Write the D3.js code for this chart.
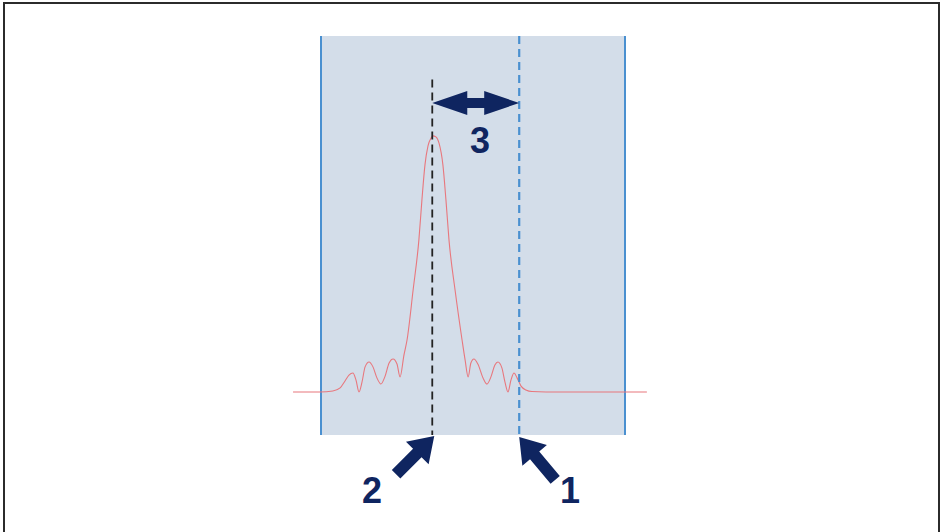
<!DOCTYPE html>
<html lang="en">
<head>
<meta charset="utf-8">
<title>Peak shift</title>
<script src="https://d3js.org/d3.v7.min.js"></script>
<style>
  body { margin: 0; background: #fff; }
</style>
</head>
<body>
<script>
// position (panel units 0..100) and relative intensity of the trace
var posX = [-9.2, -0.3, 3.9, 6.3, 7.9, 9.2, 10.5, 11.5, 12.5, 13.5, 14.5, 15.8, 17.1, 18.4, 19.7, 21, 22.4, 23.7, 25, 26,
  27.3, 28.3, 30.3, 32.2, 33.2, 34.2, 35.2, 36.2, 36.8, 37.8, 38.8, 40.1, 41.1, 42.1, 44.1, 46.4, 47.4, 48.4,
  49.3, 50.3, 51.6, 53.3, 54.6, 55.9, 57.2, 58.2, 59.5, 60.5, 61.5, 62.5, 63.5, 64.5, 65.8, 67.4, 69.4, 78.6, 107.2];
var intensity = [0, 0, 0.004, 0.016, 0.043, 0.066, 0.074, 0.047, 0, 0.039, 0.098, 0.117, 0.098, 0.055, 0.031, 0.059, 0.113, 0.129, 0.109, 0.059,
  0.145, 0.203, 0.398, 0.594, 0.75, 0.887, 0.961, 0.992, 1, 0.996, 0.973, 0.887, 0.75, 0.594, 0.398, 0.203, 0.125, 0.059,
  0.113, 0.129, 0.109, 0.055, 0.031, 0.059, 0.105, 0.117, 0.094, 0.039, 0, 0.047, 0.074, 0.055, 0.023, 0.008, 0.002, 0, 0];

var peakPos = 36.6;     // line 2 (measured peak)
var refPos = 65.2;      // line 1 (reference)
var labels = ["1", "2", "3"];

var w = 943, h = 532;
var navy = "#0f2560";

var svg = d3.select("body").append("svg")
  .attr("width", w)
  .attr("height", h);

// outer frame
svg.append("rect")
  .attr("x", 4).attr("y", 3)
  .attr("width", 935).attr("height", 540)
  .attr("fill", "none")
  .attr("stroke", "#2b2b2b")
  .attr("stroke-width", 2);

var x = d3.scaleLinear().domain([0, 100]).range([321, 625]);
var y = d3.scaleLinear().domain([-0.168, 1.39]).range([435, 36]);

// panel
svg.append("rect")
  .attr("x", x(0)).attr("y", y(1.39))
  .attr("width", x(100) - x(0))
  .attr("height", y(-0.168) - y(1.39))
  .attr("fill", "#d3dde9");

svg.selectAll(".edge")
  .data([0, 100])
  .join("line")
  .attr("class", "edge")
  .attr("x1", d => x(d)).attr("x2", d => x(d))
  .attr("y1", y(1.39)).attr("y2", y(-0.168))
  .attr("stroke", "#4a90d0")
  .attr("stroke-width", 2);

// trace
var pts = posX.map((d, i) => [d, intensity[i]]);
var line = d3.line()
  .x(d => x(d[0]))
  .y(d => y(d[1]))
  .curve(d3.curveMonotoneX);

svg.append("path")
  .datum(pts)
  .attr("d", line)
  .attr("fill", "none")
  .attr("stroke", "#e8777d")
  .attr("stroke-width", 1.1);

// dashed markers
svg.append("line")
  .attr("x1", x(peakPos)).attr("x2", x(peakPos))
  .attr("y1", y(1.22)).attr("y2", y(-0.168))
  .attr("stroke", "#222")
  .attr("stroke-width", 1.8)
  .attr("stroke-dasharray", "8,5");

svg.append("line")
  .attr("x1", x(refPos)).attr("x2", x(refPos))
  .attr("y1", y(1.39)).attr("y2", y(-0.168))
  .attr("stroke", "#4a90d0")
  .attr("stroke-width", 2.2)
  .attr("stroke-dasharray", "8,5");

// double arrow (3)
var ay = 103;
var x1 = x(peakPos), x2 = x(refPos);
var hl = 35, hw = 12, sw = 5;
svg.append("path")
  .attr("d", [
    "M", x1, ay,
    "L", x1 + hl, ay - hw,
    "L", x1 + hl, ay - sw,
    "L", x2 - hl, ay - sw,
    "L", x2 - hl, ay - hw,
    "L", x2, ay,
    "L", x2 - hl, ay + hw,
    "L", x2 - hl, ay + sw,
    "L", x1 + hl, ay + sw,
    "L", x1 + hl, ay + hw, "Z"].join(" "))
  .attr("fill", navy);

// single arrows (1, 2)
function arrow(tx, ty, ang, len) {
  // ang: direction from tip back to tail, degrees
  var g = svg.append("g")
    .attr("transform", `translate(${tx},${ty}) rotate(${ang})`);
  g.append("path")
    .attr("d", `M0,0 L24,-16 L24,-6 L${len},-6 L${len},6 L24,6 L24,16 Z`)
    .attr("fill", navy);
}
arrow(x(peakPos) + 2, y(-0.168) + 1, 135, 54);
arrow(x(refPos), y(-0.168) + 2, 50, 56);

var txt = [
  { t: labels[2], x: 480, y: 153 },
  { t: labels[1], x: 372, y: 503 },
  { t: labels[0], x: 570, y: 503 }
];
svg.selectAll(".lbl")
  .data(txt)
  .join("text")
  .attr("class", "lbl")
  .attr("x", d => d.x).attr("y", d => d.y)
  .attr("text-anchor", "middle")
  .attr("font-family", "Liberation Sans, Arial, sans-serif")
  .attr("font-weight", "bold")
  .attr("font-size", 36)
  .attr("fill", navy)
  .text(d => d.t);
</script>
</body>
</html>
